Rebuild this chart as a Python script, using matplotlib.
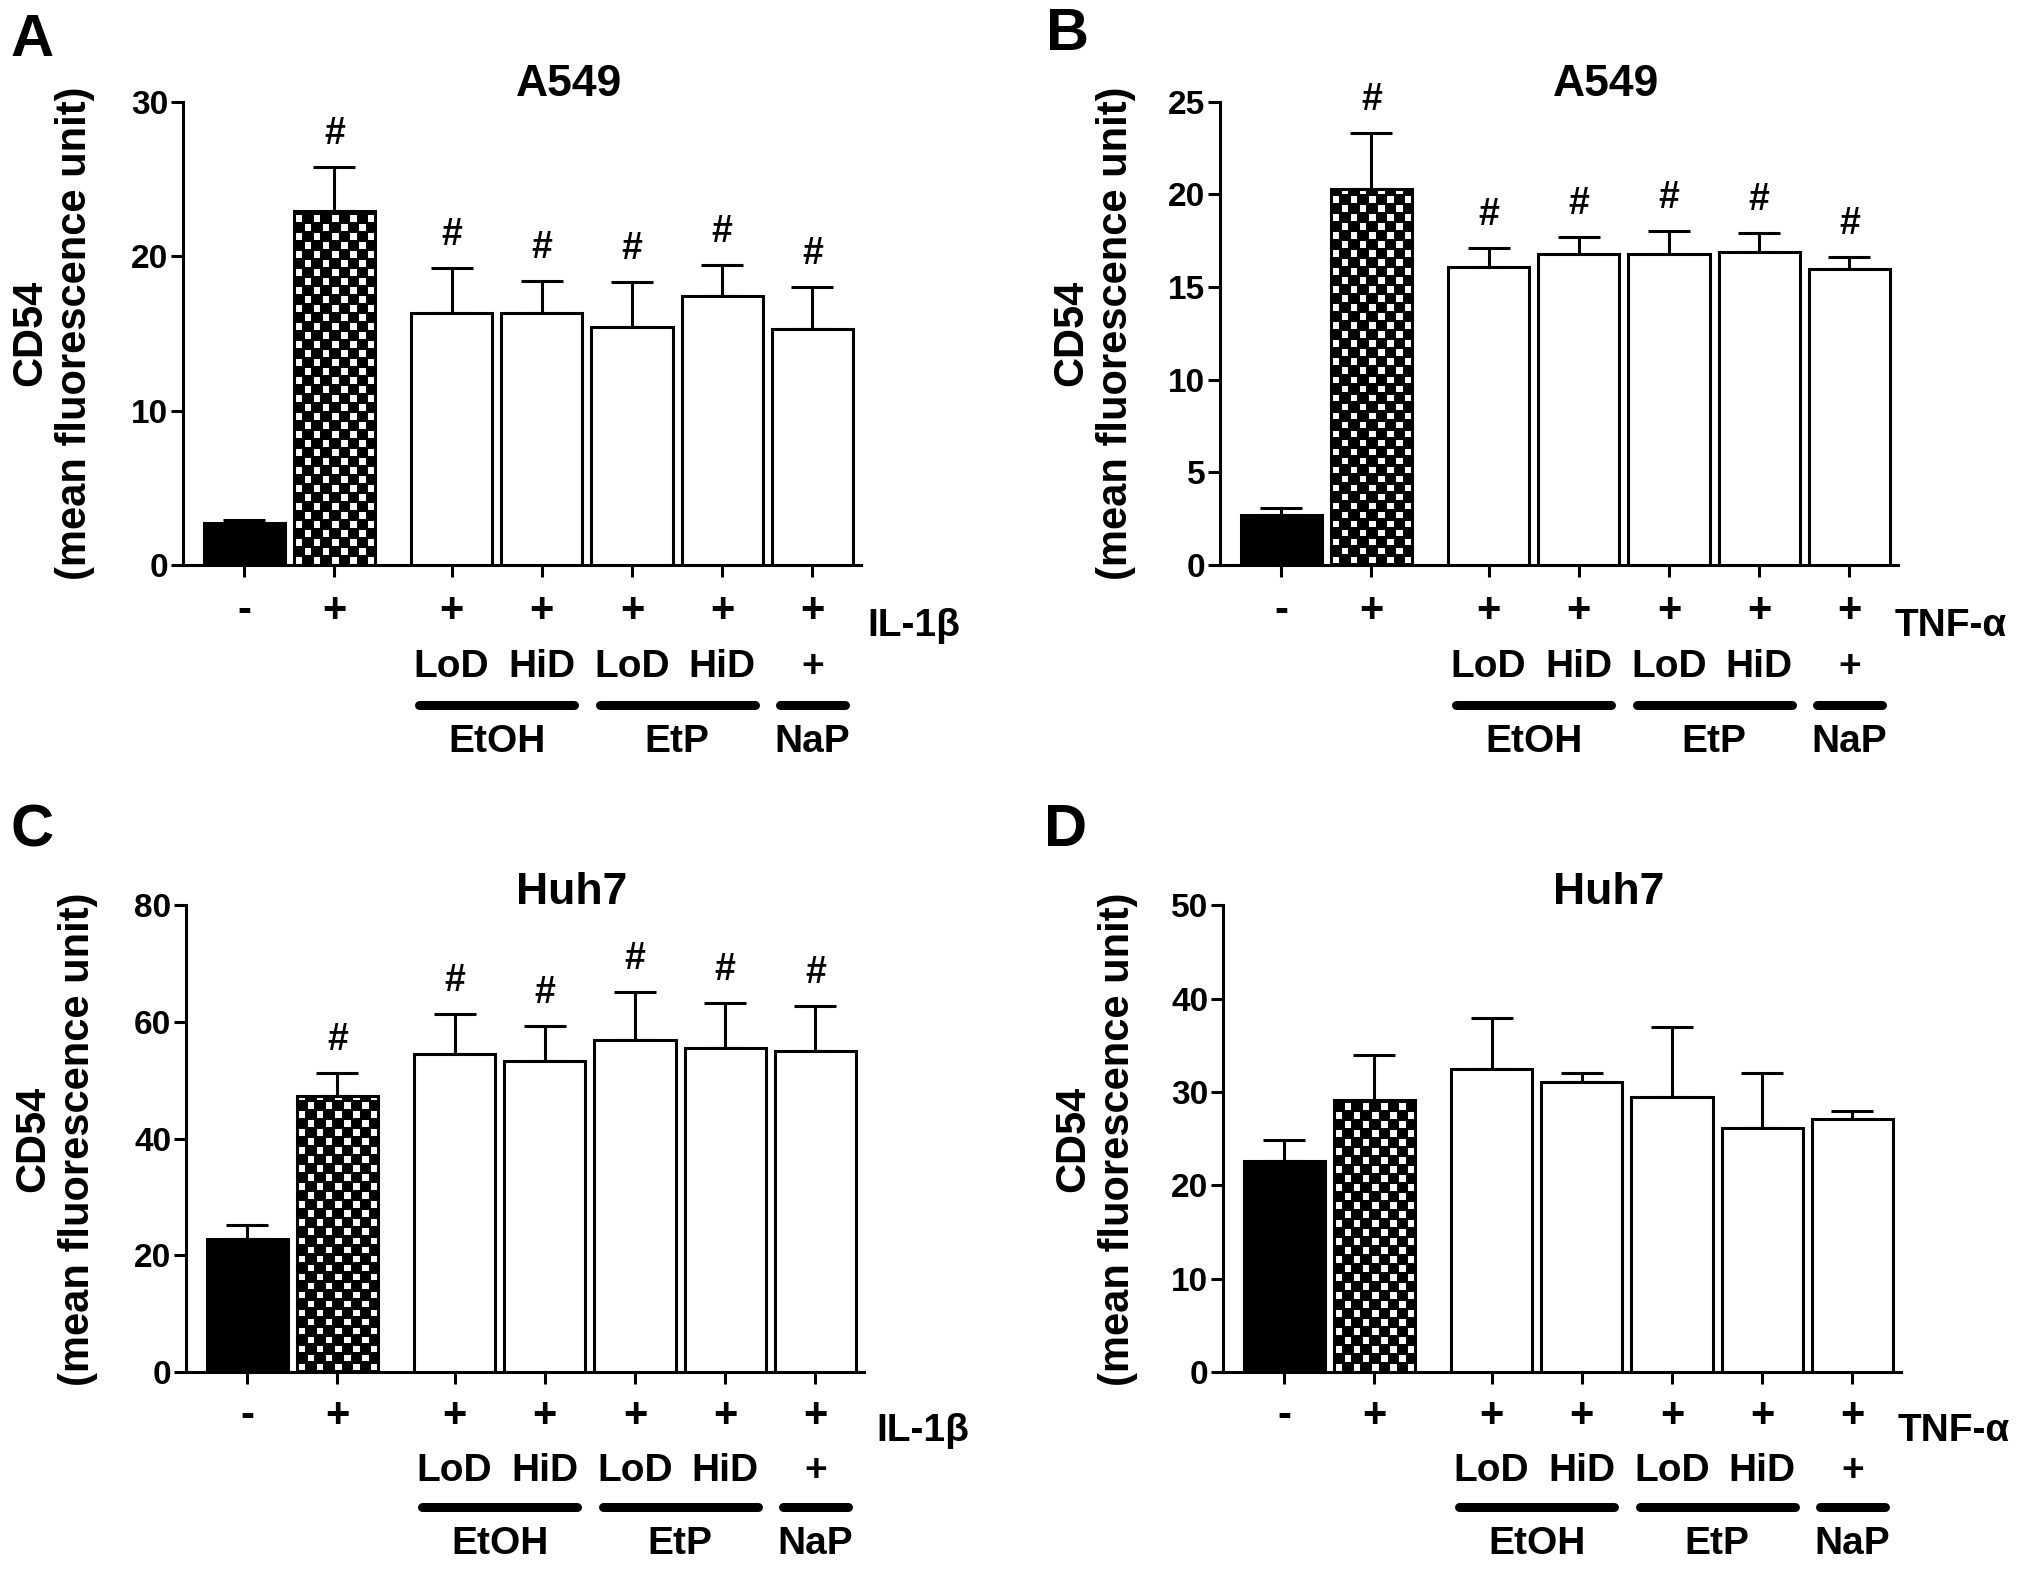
import numpy as np
from matplotlib import pyplot as plt

plt.rcParams['font.family'] = ['Liberation Sans', 'DejaVu Sans']
plt.rcParams['font.weight'] = 'bold'

W, H = 2031, 1574

# treatment labels
row1_labels = ['-', '+', '+', '+', '+', '+', '+']
row2_labels = ['', '', 'LoD', 'HiD', 'LoD', 'HiD', '+']
group_names = ['EtOH', 'EtP', 'NaP']
group_members = [(2, 3), (4, 5), (6, 6)]

# panel A: A549, IL-1b
a_means = [2.7, 22.9, 16.3, 16.3, 15.4, 17.4, 15.3]
a_errs = [0.2, 2.9, 2.9, 2.1, 2.9, 2.0, 2.7]
a_sig = [False, True, True, True, True, True, True]
a_ticks = [0, 10, 20, 30]

# panel B: A549, TNF-a
b_means = [2.7, 20.3, 16.1, 16.8, 16.8, 16.9, 15.95]
b_errs = [0.4, 3.0, 1.0, 0.9, 1.2, 1.0, 0.65]
b_sig = [False, True, True, True, True, True, True]
b_ticks = [0, 5, 10, 15, 20, 25]

# panel C: Huh7, IL-1b
c_means = [22.8, 47.4, 54.6, 53.3, 57.0, 55.6, 55.0]
c_errs = [2.4, 3.8, 6.8, 6.1, 8.2, 7.7, 7.7]
c_sig = [False, True, True, True, True, True, True]
c_ticks = [0, 20, 40, 60, 80]

# panel D: Huh7, TNF-a
d_means = [22.6, 29.1, 32.5, 31.1, 29.5, 26.1, 27.1]
d_errs = [2.3, 4.9, 5.4, 1.0, 7.5, 6.0, 0.9]
d_sig = [False] * 7
d_ticks = [0, 10, 20, 30, 40, 50]

pos = np.array([0, 1, 2.3, 3.3, 4.3, 5.3, 6.3])
XLIM = (-0.68, 6.84)
AX_W = 678
LW = 2.2


def pt(px):
    return px * 72.0 / 100


def checker_fill(ax, bar, cell=9.0, inset=1.2):
    x0, y0 = bar.get_x(), bar.get_y()
    w, h = bar.get_width(), bar.get_height()
    p0 = ax.transData.transform((x0, y0))
    p1 = ax.transData.transform((x0 + w, y0 + h))
    wpx, hpx = int(round(p1[0] - p0[0])), int(round(p1[1] - p0[1]))
    yy, xx = np.mgrid[0:hpx * 2, 0:wpx * 2] / 2.0
    cx, cy = np.floor(xx / cell), np.floor(yy / cell)
    fx, fy = xx - cx * cell, yy - cy * cell
    white = (((cx + cy) % 2) == 0) & (fx >= inset) & (fx < cell - inset) & \
            (fy >= inset) & (fy < cell - inset)
    img = np.where(white, 1.0, 0.0)
    im = ax.imshow(img, cmap='gray', vmin=0, vmax=1, origin='lower',
                   extent=(x0, x0 + w, y0, y0 + h), interpolation='nearest',
                   aspect='auto', zorder=2)
    im.set_clip_path(bar)


def panel(left, top, bottom, means, errs, sig, ticks, title, title_gap,
          stim, stim_dx, letter, letter_xy, ylab_xy, offs):
    height = bottom - top
    ax = fig.add_axes([left / W, 1 - bottom / H, AX_W / W, height / H])
    ax.set_xlim(*XLIM)
    ax.set_ylim(0, ticks[-1])
    for s in ['top', 'right']:
        ax.spines[s].set_visible(False)
    for s in ['left', 'bottom']:
        ax.spines[s].set_linewidth(LW)
    ax.set_yticks(ticks)
    ax.set_xticks(pos)
    ax.set_xticklabels([])
    ax.tick_params(axis='both', direction='out', length=pt(12), width=LW)
    ax.tick_params(axis='y', labelsize=24, pad=2)

    colors = ['black', 'black', 'white', 'white', 'white', 'white', 'white']
    bars = ax.bar(pos, means, width=0.9, color=colors, edgecolor='black',
                  linewidth=LW, zorder=3)
    checker_fill(ax, bars[1])
    bars[1].set_facecolor('none')
    ax.set_xlim(*XLIM)
    ax.set_ylim(0, ticks[-1])

    ax.errorbar(pos, means, yerr=[np.zeros(len(means)), errs], fmt='none',
                ecolor='black', elinewidth=LW, capsize=15, capthick=LW,
                zorder=1.5, clip_on=False)

    for x, m, e, s in zip(pos, means, errs, sig):
        if s:
            ax.annotate('#', xy=(x, m + e), xytext=(0, pt(33)),
                        textcoords='offset points', ha='center', va='center',
                        fontsize=27, fontweight='heavy')

    tr = ax.get_xaxis_transform()
    for x, l1, l2 in zip(pos, row1_labels, row2_labels):
        ax.annotate(l1, xy=(x, 0), xycoords=tr, xytext=(0, -pt(offs[0])),
                    textcoords='offset points', ha='center', va='center',
                    fontsize=30)
        if l2:
            ax.annotate(l2, xy=(x, 0), xycoords=tr, xytext=(0, -pt(offs[1])),
                        textcoords='offset points', ha='center', va='center',
                        fontsize=28)
    ax.annotate(stim, xy=(pos[-1] + stim_dx, 0), xycoords=tr,
                xytext=(0, -pt(offs[0] + 15)), textcoords='offset points',
                ha='left', va='center', fontsize=28)

    yline = -offs[2] / height
    for name, (i, j) in zip(group_names, group_members):
        ax.plot([pos[i] - 0.36, pos[j] + 0.36], [yline, yline], transform=tr,
                color='black', lw=pt(9), solid_capstyle='round', clip_on=False)
        ax.annotate(name, xy=((pos[i] + pos[j]) / 2, 0), xycoords=tr,
                    xytext=(0, -pt(offs[3])), textcoords='offset points',
                    ha='center', va='center', fontsize=28)

    ax.annotate(title, xy=(3.6, 1), xycoords=('data', 'axes fraction'),
                xytext=(0, pt(title_gap)), textcoords='offset points',
                ha='center', va='center', fontsize=32)

    fig.text(letter_xy[0] / W, 1 - letter_xy[1] / H, letter, ha='center',
             va='center', fontsize=43)
    fig.text(ylab_xy[0] / W, 1 - ylab_xy[1] / H,
             'CD54\n(mean fluorescence unit)', rotation=90, ha='center',
             va='center', multialignment='center', linespacing=1.15,
             fontsize=30)
    return ax


fig = plt.figure(figsize=(W / 100, H / 100), dpi=100)

top_offs = (46, 102, 140, 177)
bot_offs = (44, 99, 135, 172)

panel(183, 101.7, 565, a_means, a_errs, a_sig, a_ticks, 'A549', 17,
      'IL-1β', 0.61, 'A', (32, 41), (53, 333), top_offs)
panel(1220, 101.7, 565, b_means, b_errs, b_sig, b_ticks, 'A549', 17,
      'TNF-α', 0.5, 'B', (1068, 35), (1094, 333), top_offs)
panel(186, 905.5, 1372, c_means, c_errs, c_sig, c_ticks, 'Huh7', 13,
      'IL-1β', 0.68, 'C', (32, 831), (56, 1139), bot_offs)
panel(1223, 905.5, 1372, d_means, d_errs, d_sig, d_ticks, 'Huh7', 13,
      'TNF-α', 0.5, 'D', (1066, 831), (1096, 1139), bot_offs)

fig.savefig('out.png', dpi=100)
